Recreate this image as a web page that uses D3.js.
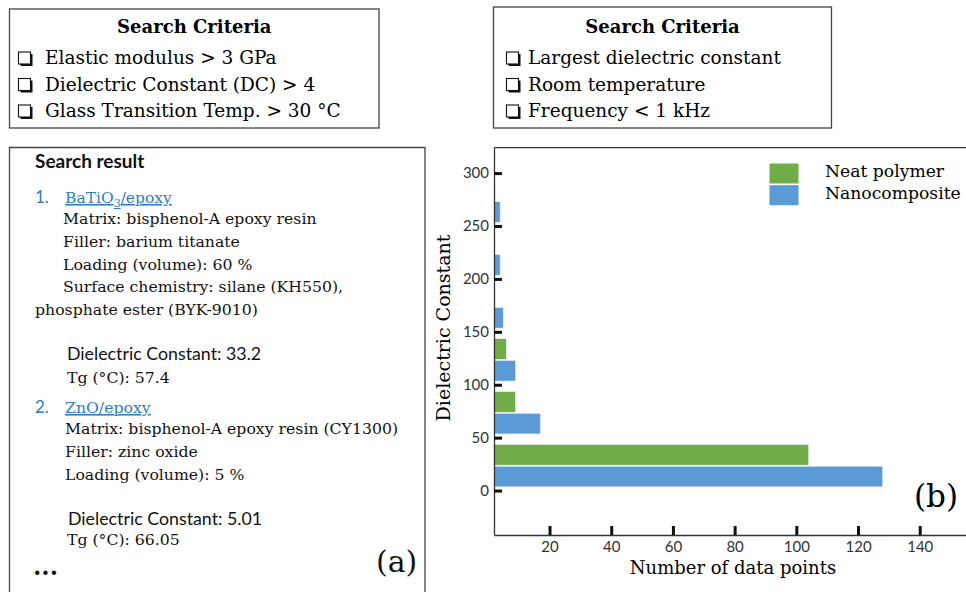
<!DOCTYPE html>
<html>
<head>
<meta charset="utf-8">
<script src="https://cdn.jsdelivr.net/npm/d3@7"></script>
<style>
  body { margin: 0; background: #fff; }
  svg { display: block; }
</style>
</head>
<body>
<svg></svg>
<script>
// histogram bins (lower edge of each 50-wide dielectric constant bin)
var bins = [0, 50, 100, 150, 200, 250];
var neatPolymer = [104, 9, 6, 0, 0, 0];
var nanocomposite = [128, 17, 9, 5, 4, 4];
var seriesNames = ["Nanocomposite", "Neat polymer"];
var seriesColors = ["#5b9bd5", "#70ad47"];
var xTicks = [20, 40, 60, 80, 100, 120, 140];
var yTicks = [0, 50, 100, 150, 200, 250, 300];

var criteriaLeft = ["Elastic modulus > 3 GPa", "Dielectric Constant (DC) > 4", "Glass Transition Temp. > 30 \u00B0C"];
var criteriaRight = ["Largest dielectric constant", "Room temperature", "Frequency < 1 kHz"];

var serif = "'DejaVu Serif', serif";
var sans = "Lato, 'Open Sans', sans-serif";
var linkBlue = "#2e7dc5";

let width = 966, height = 592;

let svg = d3.select("svg")
    .attr("width", width)
    .attr("height", height)
    .attr("viewBox", "0 0 " + width + " " + height);

// ---------- criteria boxes ----------
function criteriaBox(x0, y0, x1, y1, boxX, textX, lines) {
    svg.append("rect")
        .attr("x", x0).attr("y", y0)
        .attr("width", x1 - x0).attr("height", y1 - y0)
        .attr("fill", "none")
        .attr("stroke", "#444")
        .attr("stroke-width", 1.3);

    svg.append("text")
        .attr("x", (x0 + x1) / 2)
        .attr("y", 33)
        .attr("text-anchor", "middle")
        .style("font-family", serif)
        .style("font-weight", "bold")
        .style("font-size", "18px")
        .text("Search Criteria");

    lines.forEach(function(t, i) {
        var b = 64 + i * 26.5;
        // checkbox with drop shadow
        svg.append("rect")
            .attr("x", boxX + 2).attr("y", b - 10)
            .attr("width", 12).attr("height", 12)
            .attr("fill", "#111");
        svg.append("rect")
            .attr("x", boxX).attr("y", b - 12)
            .attr("width", 12).attr("height", 12)
            .attr("fill", "#fff")
            .attr("stroke", "#111")
            .attr("stroke-width", 1.1);
        svg.append("text")
            .attr("x", textX)
            .attr("y", b)
            .style("font-family", serif)
            .style("font-size", "18.5px")
            .text(t);
    });
}

criteriaBox(9.5, 9, 379, 128, 18.5, 45, criteriaLeft);
criteriaBox(493.5, 7, 831.5, 128, 506.5, 528, criteriaRight);

// ---------- search result panel ----------
svg.append("path")
    .attr("d", "M9.5,600 V147.5 H425 V600")
    .attr("fill", "none")
    .attr("stroke", "#444")
    .attr("stroke-width", 1.3);

function line(x, y, txt, font, size, opts) {
    opts = opts || {};
    return svg.append("text")
        .attr("x", x).attr("y", y)
        .style("font-family", font)
        .style("font-size", size + "px")
        .style("font-weight", opts.bold ? "bold" : "normal")
        .attr("fill", opts.color || "#111")
        .text(txt);
}

line(35, 168, "Search result", sans, 19, {bold: true});

// item 1
line(35, 203, "1.", sans, 17, {color: linkBlue});
var l1 = svg.append("text")
    .attr("x", 65).attr("y", 203)
    .style("font-family", serif)
    .style("font-size", "15.5px")
    .attr("fill", linkBlue)
    .attr("text-decoration", "underline");
l1.append("tspan").text("BaTiO");
l1.append("tspan").attr("dy", 4).style("font-size", "11px").text("3");
l1.append("tspan").attr("dy", -4).text("/epoxy");

line(63, 223.5, "Matrix: bisphenol-A epoxy resin", serif, 15.7);
line(63, 247, "Filler: barium titanate", serif, 15.7);
line(63, 270, "Loading (volume): 60 %", serif, 15.7);
line(63, 292, "Surface chemistry: silane (KH550),", serif, 15.7);
line(35, 315, "phosphate ester (BYK-9010)", serif, 15.7);
line(67, 360, "Dielectric Constant: 33.2", sans, 17.8);
line(67, 382.5, "Tg (\u00B0C): 57.4", serif, 15.7);

// item 2
line(35, 413, "2.", sans, 17, {color: linkBlue});
line(65, 413, "ZnO/epoxy", serif, 15.7, {color: linkBlue}).attr("text-decoration", "underline");
line(65, 434, "Matrix: bisphenol-A epoxy resin (CY1300)", serif, 15.7);
line(65, 457, "Filler: zinc oxide", serif, 15.7);
line(65, 479.5, "Loading (volume): 5 %", serif, 15.7);
line(68, 525, "Dielectric Constant: 5.01", sans, 17.8);
line(67, 545, "Tg (\u00B0C): 66.05", serif, 15.7);
line(33, 575, "...", serif, 24, {bold: true});
line(376, 572, "(a)", serif, 30);

// ---------- histogram panel ----------
const x = d3.scaleLinear().domain([2, 155]).range([494, 966]);
const y = d3.scaleLinear().domain([-42, 324]).range([535, 147.7]);
// position of the two series inside each 50-wide bin
const sub = d3.scaleBand().domain(seriesNames).range([3.5, 43.5]).paddingInner(0.05);

var rows = [];
bins.forEach(function(b, i) {
    rows.push({bin: b, key: "Nanocomposite", value: nanocomposite[i], color: seriesColors[0]});
    rows.push({bin: b, key: "Neat polymer", value: neatPolymer[i], color: seriesColors[1]});
});

svg.append("g")
    .selectAll("rect")
    .data(rows.filter(d => d.value > 0))
    .enter()
    .append("rect")
    .attr("x", x(2))
    .attr("y", d => y(d.bin + sub(d.key) + sub.bandwidth()))
    .attr("width", d => x(d.value) - x(2))
    .attr("height", d => y(d.bin + sub(d.key)) - y(d.bin + sub(d.key) + sub.bandwidth()))
    .attr("fill", d => d.color)
    .attr("stroke", "#e8f0f8")
    .attr("stroke-width", 0.6);

// frame top line
svg.append("line")
    .attr("x1", 494).attr("x2", 966)
    .attr("y1", 147.7).attr("y2", 147.7)
    .attr("stroke", "#333").attr("stroke-width", 1.3);

const yAxis = svg.append("g")
    .attr("transform", "translate(494,0)")
    .call(d3.axisLeft(y).tickValues(yTicks).tickSizeInner(-8).tickSizeOuter(0).tickPadding(5));

const xAxis = svg.append("g")
    .attr("transform", "translate(0,535)")
    .call(d3.axisBottom(x).tickValues(xTicks).tickSizeInner(-9).tickSizeOuter(0).tickPadding(6));

[yAxis, xAxis].forEach(function(g) {
    g.select(".domain").attr("stroke", "#333").attr("stroke-width", 1.3);
    g.selectAll(".tick line").attr("stroke", "#111").attr("stroke-width", 3);
    g.selectAll(".tick text")
        .style("font-family", sans)
        .style("font-size", "15px")
        .attr("fill", "#333");
});

svg.append("text")
    .attr("transform", "translate(450,328) rotate(-90)")
    .attr("text-anchor", "middle")
    .style("font-family", serif)
    .style("font-size", "19px")
    .text("Dielectric Constant");

svg.append("text")
    .attr("x", 733)
    .attr("y", 574)
    .attr("text-anchor", "middle")
    .style("font-family", serif)
    .style("font-size", "18px")
    .text("Number of data points");

// legend
var legendNames = ["Neat polymer", "Nanocomposite"];
var legendColors = [seriesColors[1], seriesColors[0]];
legendNames.forEach(function(n, i) {
    svg.append("rect")
        .attr("x", 769.5).attr("y", 163.5 + i * 21.7)
        .attr("width", 29).attr("height", 20)
        .attr("fill", legendColors[i]);
    svg.append("text")
        .attr("x", 825).attr("y", 177 + i * 21.5)
        .style("font-family", serif)
        .style("font-size", "17.2px")
        .text(n);
});

svg.append("text")
    .attr("x", 914)
    .attr("y", 507)
    .style("font-family", serif)
    .style("font-size", "31px")
    .text("(b)");
</script>
</body>
</html>
